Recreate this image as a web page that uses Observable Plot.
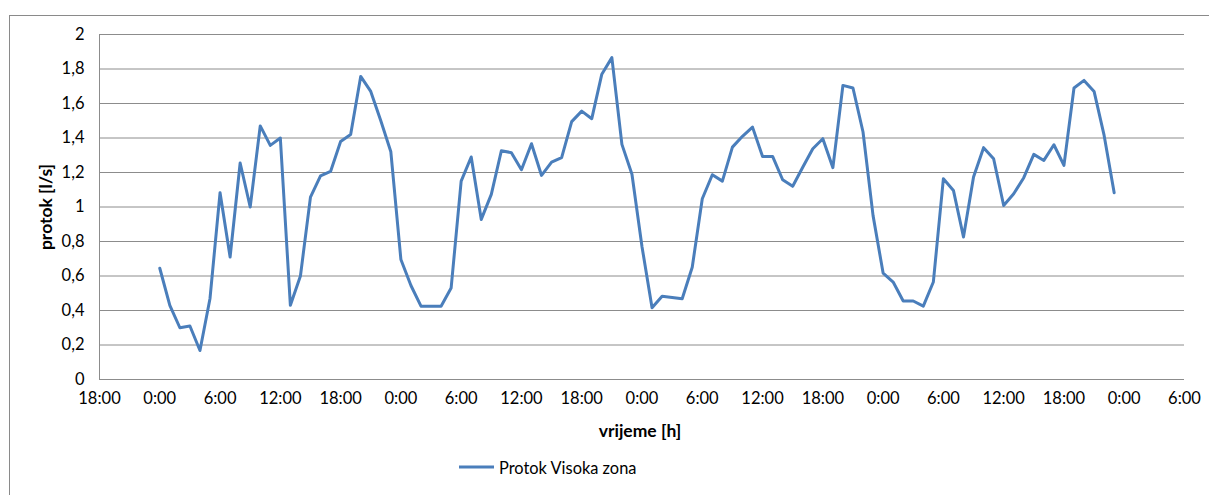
<!DOCTYPE html>
<html>
<head>
<meta charset="utf-8">
<script src="https://cdn.jsdelivr.net/npm/d3@7"></script>
<script src="https://cdn.jsdelivr.net/npm/@observablehq/plot@0.6"></script>
<style>
  body { margin: 0; background: #fff; }
  #chart { position: relative; width: 1209px; height: 495px; overflow: hidden; font-family: Lato, "Open Sans", sans-serif; color: #000; }
  #frame { position: absolute; left: 9px; top: 15px; width: 1220px; height: 520px; border: 1px solid #8a8a8a; box-sizing: border-box; }
  #plot { position: absolute; left: 0; top: 0; }
  .title { position: absolute; font-weight: bold; font-size: 17.5px; white-space: nowrap; }
  #xtitle { left: 640px; top: 430px; transform: translate(-50%, -50%); }
  #ytitle { left: 45px; top: 207px; transform: translate(-50%, -50%) rotate(-90deg); }
  #legend { position: absolute; left: 459px; top: 467px; transform: translateY(-50%); display: flex; align-items: center; font-size: 16.4px; }
  #legend .swatch { width: 35px; height: 3px; background: #4a7ebb; margin-right: 5px; }
</style>
</head>
<body>
<div id="chart">
  <div id="frame"></div>
  <div id="plot"></div>
  <div class="title" id="ytitle">protok [l/s]</div>
  <div class="title" id="xtitle">vrijeme [h]</div>
  <div id="legend"><span class="swatch"></span><span>Protok Visoka zona</span></div>
</div>
<script>
// Hourly flow of the high zone, four consecutive days (00:00 .. 23:00 each)
const seriesName = "Protok Visoka zona";
const day1 = [0.645, 0.43, 0.30, 0.31, 0.168, 0.47, 1.083, 0.71, 1.255, 1.00, 1.47, 1.357,
              1.40, 0.43, 0.60, 1.057, 1.18, 1.206, 1.38, 1.42, 1.757, 1.67, 1.50, 1.32];
const day2 = [0.696, 0.545, 0.425, 0.425, 0.425, 0.53, 1.15, 1.29, 0.928, 1.073, 1.326, 1.315,
              1.216, 1.367, 1.183, 1.26, 1.286, 1.495, 1.556, 1.512, 1.77, 1.866, 1.363, 1.19];
const day3 = [0.77, 0.416, 0.483, 0.476, 0.468, 0.651, 1.048, 1.187, 1.15, 1.347, 1.41, 1.463,
              1.293, 1.293, 1.158, 1.12, 1.23, 1.338, 1.396, 1.228, 1.705, 1.69, 1.435, 0.95];
const day4 = [0.617, 0.565, 0.455, 0.455, 0.425, 0.565, 1.164, 1.096, 0.826, 1.174, 1.344, 1.28,
              1.009, 1.077, 1.17, 1.305, 1.27, 1.361, 1.241, 1.69, 1.734, 1.67, 1.415, 1.083];

// Axis ticks: hours relative to the first midnight, and flow values
const xTicks = [-6, 0, 6, 12, 18, 24, 30, 36, 42, 48, 54, 60, 66, 72, 78, 84, 90, 96, 102];
const xTickLabels = ["18:00", "0:00", "6:00", "12:00", "18:00", "0:00", "6:00", "12:00", "18:00",
                     "0:00", "6:00", "12:00", "18:00", "0:00", "6:00", "12:00", "18:00", "0:00", "6:00"];
const yTicks = [0, 0.2, 0.4, 0.6, 0.8, 1, 1.2, 1.4, 1.6, 1.8, 2];

const flow = [...day1, ...day2, ...day3, ...day4].map((v, hour) => ({hour, v}));
const gridColor = "#8c8c8c";

const chart = Plot.plot({
  width: 1209,
  height: 495,
  marginLeft: 99,
  marginRight: 25,
  marginTop: 34,
  marginBottom: 116,
  x: {domain: [-6, 102]},
  y: {domain: [0, 2]},
  style: {fontFamily: "Lato, 'Open Sans', sans-serif", fontSize: "16.5px", color: "#000", background: "transparent", overflow: "visible"},
  marks: [
    Plot.gridY(yTicks, {stroke: gridColor, strokeOpacity: 1, strokeWidth: 1}),
    Plot.ruleX([-6], {y1: 0, y2: 2, stroke: gridColor, strokeWidth: 1}),
    Plot.axisY(yTicks, {tickSize: 0, tickPadding: 15, label: null,
      tickFormat: d => String(+d.toFixed(1)).replace(".", ",")}),
    Plot.axisX(xTicks, {tickSize: 0, tickPadding: 13, label: null,
      tickFormat: d => xTickLabels[xTicks.indexOf(d)]}),
    Plot.lineY(flow, {x: "hour", y: "v", stroke: "#4a7ebb", strokeWidth: 3, strokeLinejoin: "round", title: () => seriesName})
  ]
});
document.getElementById("plot").appendChild(chart);
</script>
</body>
</html>
